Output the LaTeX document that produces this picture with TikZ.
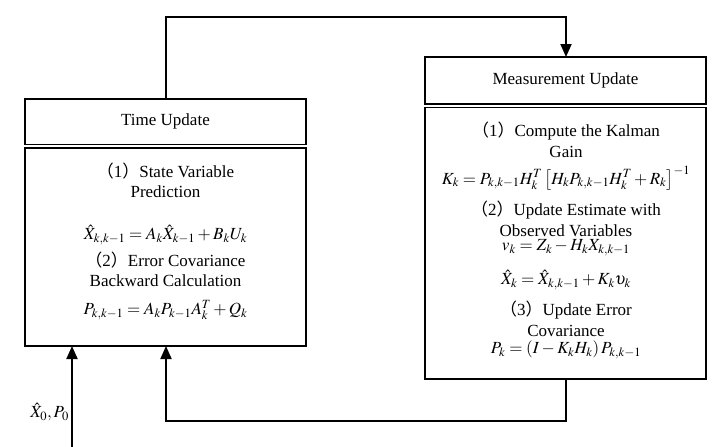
\documentclass[tikz,border=0pt]{standalone}
\usepackage{mathptmx}
\usepackage[no-math]{fontspec}
\setmainfont{Liberation Serif}
\newfontfamily\cjk{Noto Sans CJK SC}
\usetikzlibrary{arrows.meta}
\begin{document}
\begin{tikzpicture}[x=1pt,y=-1pt,
  box/.style={draw, line width=1.4pt, inner sep=0pt, outer sep=0pt, anchor=north west},
  txt/.style={inner sep=0pt, font=\fontsize{17}{20}\selectfont},
  conn/.style={line width=1.8pt},
  arr/.style={conn, -{Triangle[length=13pt,width=11pt]}}]
\useasboundingbox (0,0) rectangle (721,447);
% Time Update
\node[box, minimum width=281pt, minimum height=45.5pt] (tuh) at (25,99) {};
\node[box, minimum width=281pt, minimum height=198pt] (tub) at (25,148) {};
\node[txt] (tuhl) at (tuh.center) {Time Update};
\node[txt] (t1) at (165.5,171) {{\cjk （}1{\cjk ）}State Variable};
\node[txt] (t2) at (165.5,192) {Prediction};
\node[txt] (t3) at (165.5,235) {$\hat{X}_{k,k-1}=A_k\hat{X}_{k-1}+B_kU_k$};
\node[txt] (t4) at (165.5,260) {{\cjk （}2{\cjk ）}Error Covariance};
\node[txt] (t5) at (165.5,281) {Backward Calculation};
\node[txt] (t6) at (165.5,310) {$P_{k,k-1}=A_kP_{k-1}A_k^T+Q_k$};
% Measurement Update
\node[box, minimum width=281pt, minimum height=47pt] (muh) at (425,57) {};
\node[box, minimum width=281pt, minimum height=271.5pt] (mub) at (425,107.5) {};
\node[txt] (muhl) at (muh.center) {Measurement Update};
\node[txt] (m1) at (566,131) {{\cjk （}1{\cjk ）}Compute the Kalman};
\node[txt] (m2) at (566,152) {Gain};
\node[txt] (m3) at (566,178) {$K_k=P_{k,k-1}H_k^T\left[H_kP_{k,k-1}H_k^T+R_k\right]^{-1}$};
\node[txt] (m4) at (566,210) {{\cjk （}2{\cjk ）}Update Estimate with};
\node[txt] (m5) at (566,231) {Observed Variables};
\node[txt] (m6) at (566,248) {$v_k=Z_k-H_kX_{k,k-1}$};
\node[txt] (m7) at (566,280) {$\hat{X}_k=\hat{X}_{k,k-1}+K_k\upsilon_k$};
\node[txt] (m8) at (566,310) {{\cjk （}3{\cjk ）}Update Error};
\node[txt] (m9) at (566,331) {Covariance};
\node[txt] (m10) at (566,350) {$P_k=\left(I-K_kH_k\right)P_{k,k-1}$};
% connectors
\coordinate (c1) at (166,17);
\coordinate (c2) at (566,17);
\coordinate (c3) at (566,421);
\coordinate (c4) at (166,421);
\coordinate (in) at (72,447);
\draw[arr] (tuh.north -| c1) -- (c1) -- (c2) -- (muh.north -| c2);
\draw[arr] (mub.south -| c3) -- (c3) -- (c4) -- (tub.south -| c4);
\draw[arr] (in) -- (tub.south -| in);
\node[txt, anchor=east] (x0) at (69,412) {$\hat{X}_0,P_0$};
\end{tikzpicture}
\end{document}
